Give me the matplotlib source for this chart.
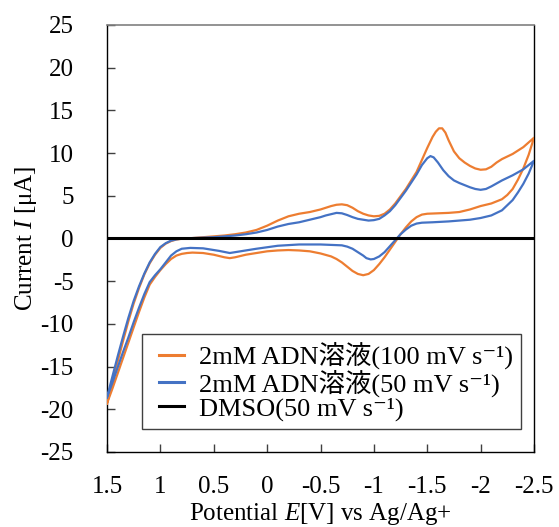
import matplotlib
matplotlib.use("Agg")
import matplotlib.pyplot as plt
from matplotlib.ticker import FixedLocator, FixedFormatter
from matplotlib.legend_handler import HandlerLine2D

plt.rcParams['font.family'] = ['Liberation Serif', 'Noto Sans CJK JP', 'DejaVu Sans']
plt.rcParams['mathtext.fontset'] = 'custom'
plt.rcParams['mathtext.rm'] = 'Liberation Serif'
plt.rcParams['mathtext.it'] = 'Liberation Serif:italic'
plt.rcParams['axes.unicode_minus'] = False

# ---- data: 2mM ADN, 100 mV/s (orange) ----
e_100_fwd = [1.5, 1.45, 1.4, 1.35, 1.3, 1.25, 1.2, 1.15, 1.1, 1.05, 1.0, 0.95, 0.9, 0.85, 0.8, 0.75,
             0.7, 0.6, 0.5, 0.4, 0.3, 0.2, 0.1, 0.0, -0.1, -0.2, -0.3, -0.4, -0.5, -0.55, -0.6, -0.65,
             -0.7, -0.75, -0.8, -0.85, -0.9, -0.95, -1.0, -1.05, -1.1, -1.15, -1.2, -1.3, -1.4, -1.45,
             -1.5, -1.55, -1.58, -1.61, -1.64, -1.67, -1.7, -1.75, -1.8, -1.85, -1.9, -1.95, -2.0,
             -2.05, -2.1, -2.15, -2.2, -2.3, -2.4, -2.5]
i_100_fwd = [-19.3, -16.9, -14.4, -12.0, -9.7, -7.6, -5.8, -4.2, -2.9, -1.9, -1.1, -0.6, -0.3, -0.12, -0.03, 0.02,
             0.05, 0.15, 0.25, 0.35, 0.5, 0.7, 1.0, 1.5, 2.1, 2.6, 2.9, 3.1, 3.4, 3.6, 3.8, 3.95,
             4.0, 3.9, 3.6, 3.2, 2.9, 2.7, 2.6, 2.65, 2.9, 3.4, 4.1, 5.8, 7.8, 9.2,
             10.6, 11.9, 12.5, 12.9, 12.9, 12.4, 11.5, 10.2, 9.4, 8.9, 8.5, 8.2, 8.05,
             8.1, 8.4, 8.9, 9.3, 9.9, 10.7, 11.8]
e_100_rev = [-2.5, -2.45, -2.4, -2.35, -2.3, -2.25, -2.2, -2.1, -2.0, -1.9, -1.8, -1.7, -1.6, -1.5,
             -1.45, -1.4, -1.35, -1.3, -1.25, -1.2, -1.15, -1.1, -1.05, -1.0, -0.95, -0.9, -0.85,
             -0.8, -0.75, -0.7, -0.65, -0.6, -0.5, -0.4, -0.3, -0.2, -0.1, 0.0, 0.1, 0.2, 0.3, 0.35,
             0.4, 0.5, 0.6, 0.7, 0.75, 0.8, 0.85, 0.9, 0.95, 1.0, 1.05, 1.1, 1.15, 1.2, 1.25, 1.3,
             1.35, 1.4, 1.45, 1.5]
i_100_rev = [11.8, 9.8, 8.2, 6.9, 5.8, 5.1, 4.6, 4.1, 3.8, 3.4, 3.1, 3.0, 2.95, 2.9,
             2.8, 2.5, 2.0, 1.3, 0.5, -0.4, -1.3, -2.2, -3.0, -3.7, -4.15, -4.3, -4.15,
             -3.8, -3.3, -2.8, -2.4, -2.1, -1.75, -1.5, -1.4, -1.35, -1.4, -1.5, -1.7, -1.9, -2.2, -2.3,
             -2.2, -1.9, -1.7, -1.65, -1.7, -1.8, -2.0, -2.4, -3.0, -3.7, -4.5, -5.4, -6.9, -8.6, -10.4, -12.2,
             -14.0, -15.8, -17.6, -19.3]

# ---- data: 2mM ADN, 50 mV/s (blue) ----
e_50_fwd = [1.5, 1.45, 1.4, 1.35, 1.3, 1.25, 1.2, 1.15, 1.1, 1.05, 1.0, 0.95, 0.9, 0.85, 0.8, 0.75,
            0.7, 0.6, 0.5, 0.4, 0.3, 0.2, 0.1, 0.0, -0.1, -0.2, -0.3, -0.4, -0.5, -0.55, -0.6, -0.65,
            -0.7, -0.75, -0.8, -0.85, -0.9, -0.95, -1.0, -1.05, -1.1, -1.15, -1.2, -1.3, -1.4, -1.45,
            -1.5, -1.53, -1.56, -1.6, -1.65, -1.7, -1.75, -1.8, -1.9, -1.95, -2.0, -2.05, -2.1, -2.2,
            -2.3, -2.4, -2.5]
i_50_fwd = [-18.6, -16.2, -13.8, -11.5, -9.3, -7.3, -5.6, -4.1, -2.8, -1.8, -1.0, -0.55, -0.25, -0.1, -0.02, 0.02,
            0.05, 0.1, 0.15, 0.25, 0.35, 0.5, 0.7, 1.0, 1.4, 1.7, 1.9, 2.2, 2.5, 2.7, 2.85, 3.0,
            2.95, 2.75, 2.5, 2.3, 2.2, 2.1, 2.15, 2.3, 2.7, 3.2, 3.9, 5.6, 7.5, 8.6,
            9.4, 9.65, 9.5, 8.9, 8.0, 7.3, 6.8, 6.5, 6.0, 5.8, 5.7, 5.8, 6.1, 6.8,
            7.4, 8.1, 9.1]
e_50_rev = [-2.5, -2.45, -2.4, -2.35, -2.3, -2.2, -2.1, -2.0, -1.9, -1.7, -1.55, -1.45, -1.4, -1.35,
            -1.3, -1.25, -1.2, -1.15, -1.1, -1.05, -1.0, -0.97, -0.93, -0.9, -0.85, -0.8, -0.75, -0.7,
            -0.5, -0.3, -0.1, 0.1, 0.3, 0.35, 0.45, 0.6, 0.72, 0.8, 0.85, 0.9, 0.95, 1.0, 1.05, 1.1,
            1.15, 1.2, 1.25, 1.3, 1.35, 1.4, 1.45, 1.5]
i_50_rev = [9.1, 7.6, 6.4, 5.4, 4.5, 3.3, 2.7, 2.4, 2.2, 2.0, 1.9, 1.85, 1.75, 1.5,
            1.05, 0.5, -0.2, -0.9, -1.6, -2.1, -2.4, -2.45, -2.3, -2.0, -1.6, -1.2, -0.95, -0.8,
            -0.7, -0.7, -0.85, -1.2, -1.6, -1.7, -1.45, -1.15, -1.1, -1.2, -1.5, -2.0, -2.8, -3.6, -4.3, -5.1,
            -6.5, -8.1, -9.8, -11.6, -13.3, -15.1, -16.9, -18.6]

# ---- data: DMSO, 50 mV/s (black) ----
e_dmso = [1.5, 1.0, 0.5, 0.0, -0.5, -1.0, -1.5, -2.0, -2.5]
i_dmso = [0.0, 0.0, 0.0, 0.0, 0.0, 0.0, 0.0, 0.0, 0.0]

x_ticks = [1.5, 1.0, 0.5, 0.0, -0.5, -1.0, -1.5, -2.0, -2.5]
x_tick_labels = ['1.5', '1', '0.5', '0', '-0.5', '-1', '-1.5', '-2', '-2.5']
y_ticks = [-25, -20, -15, -10, -5, 0, 5, 10, 15, 20, 25]
y_tick_labels = ['-25', '-20', '-15', '-10', '-5', '0', '5', '10', '15', '20', '25']

labels = ['2mM ADN溶液(100 mV s\u207b\u00b9)',
          '2mM ADN溶液(50 mV s\u207b\u00b9)',
          'DMSO(50 mV s\u207b\u00b9)']

orange = '#ED7D31'
blue = '#4472C4'

fig = plt.figure(figsize=(5.59, 5.27), dpi=100)
ax = fig.add_axes([107/559, 1-452/527, 427/559, 427/527])

l1, = ax.plot(e_100_fwd + e_100_rev, i_100_fwd + i_100_rev, color=orange, lw=1.6, label=labels[0],
              solid_joinstyle='round', zorder=3)
l2, = ax.plot(e_50_fwd + e_50_rev, i_50_fwd + i_50_rev, color=blue, lw=1.6, label=labels[1],
              solid_joinstyle='round', zorder=3)
l3, = ax.plot(e_dmso, i_dmso, color='black', lw=2.2, label=labels[2], zorder=4)

ax.set_xlim(1.5, -2.5)
ax.set_ylim(-25, 25)
ax.xaxis.set_major_locator(FixedLocator(x_ticks))
ax.xaxis.set_major_formatter(FixedFormatter(x_tick_labels))
ax.yaxis.set_major_locator(FixedLocator(y_ticks))
ax.yaxis.set_major_formatter(FixedFormatter(y_tick_labels))

ax.tick_params(axis='both', direction='in', length=6, width=1, labelsize=18, color='#404040')
ax.tick_params(axis='x', pad=17)
ax.tick_params(axis='y', pad=24)
for s in ['left', 'bottom', 'right']:
    ax.spines[s].set_color('black')
    ax.spines[s].set_linewidth(1.0)
ax.spines['top'].set_color('#808080')
ax.spines['top'].set_linewidth(1.2)

ax.set_ylabel('Current $I$ [μA]', fontsize=18, labelpad=1)
ax.set_xlabel('Potential $E$[V] vs Ag/Ag+', fontsize=18, labelpad=2.5)

hmap = {h: HandlerLine2D(xpad=0.36) for h in (l1, l2, l3)}
leg = ax.legend(loc='upper left', bbox_to_anchor=(35/427, 1-(334-25)/427), borderaxespad=0,
                fontsize=19, frameon=True, fancybox=False, edgecolor='#404040',
                handlelength=1.3, handletextpad=0.57, labelspacing=0.0, borderpad=0.3,
                handler_map=hmap)
leg.get_frame().set_linewidth(1.0)
leg.get_frame().set_alpha(1)
for line in leg.get_lines():
    line.set_linewidth(2.2)

fig.savefig('out.png', dpi=100)
